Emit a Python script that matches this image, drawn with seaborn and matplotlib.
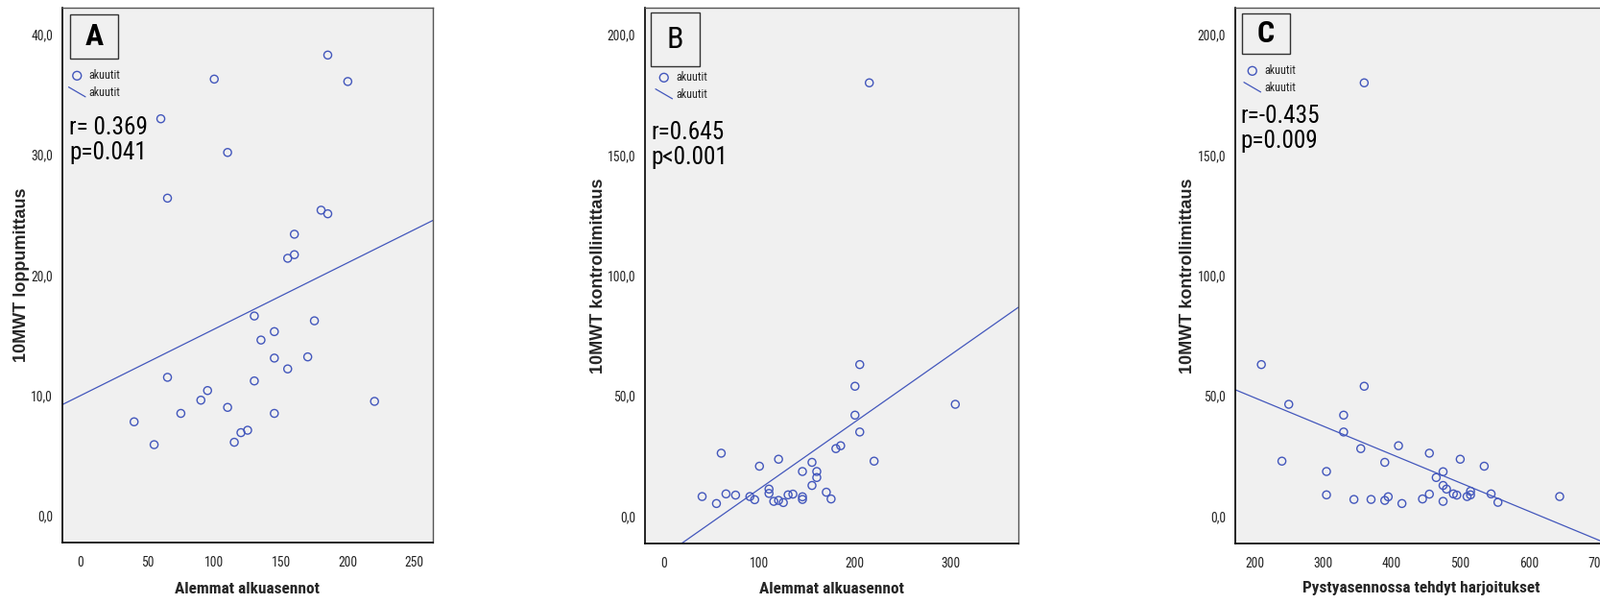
import seaborn as sns
import matplotlib.pyplot as plt
from matplotlib import font_manager
from matplotlib.lines import Line2D
from matplotlib.patches import Rectangle
from matplotlib.legend_handler import HandlerBase
from matplotlib.ticker import FuncFormatter

# ---- values ----
# A: Alemmat alkuasennot vs 10MWT loppumittaus
a_x = [185, 100, 200, 60, 110, 65, 180, 185, 160, 160, 155, 130, 175, 145, 135, 145,
       170, 155, 65, 130, 95, 90, 220, 110, 75, 145, 40, 125, 120, 115, 55]
a_y = [38.3, 36.3, 36.1, 33.0, 30.2, 26.4, 25.4, 25.1, 23.4, 21.7, 21.4, 16.6, 16.2, 15.3, 14.6, 13.1,
       13.2, 12.2, 11.5, 11.2, 10.4, 9.6, 9.5, 9.0, 8.5, 8.5, 7.8, 7.1, 6.9, 6.1, 5.9]

# B: Alemmat alkuasennot vs 10MWT kontrollimittaus
b_x = [215, 205, 200, 305, 200, 205, 185, 180, 60, 120, 220, 155, 100, 145, 160, 160, 155,
       110, 110, 170, 65, 75, 130, 135, 40, 90, 145, 145, 95, 175, 120, 115, 125, 55]
b_y = [180, 63, 54, 46.5, 42, 35, 29.3, 28.1, 26.2, 23.7, 22.9, 22.4, 20.8, 18.6, 18.6, 16.1, 12.8,
       11.3, 9.5, 10.0, 9.3, 8.8, 8.9, 9.2, 8.2, 8.2, 8.1, 7.0, 6.9, 7.2, 6.6, 6.2, 5.7, 5.3]

# C: Pystyasennossa tehdyt harjoitukset vs 10MWT kontrollimittaus
c_x = [360, 210, 360, 250, 330, 330, 410, 355, 455, 500, 240, 390, 535, 305, 475, 465, 475, 480,
       515, 515, 545, 305, 455, 490, 495, 510, 645, 395, 345, 370, 390, 445, 475, 555, 415]
c_y = [180, 63, 54, 46.5, 42, 35, 29.3, 28.1, 26.2, 23.7, 22.9, 22.4, 20.8, 18.6, 18.5, 16.1, 12.8, 11.3,
       10.4, 8.9, 9.3, 8.9, 9.2, 9.3, 8.8, 8.2, 8.2, 8.1, 7.0, 7.0, 6.6, 7.2, 6.2, 5.8, 5.3]

panel_letters = ["A", "B", "C"]
x_labels = ["Alemmat alkuasennot", "Alemmat alkuasennot", "Pystyasennossa tehdyt harjoitukset"]
y_labels = ["10MWT loppumittaus", "10MWT kontrollimittaus", "10MWT kontrollimittaus"]
stats_text = ["r= 0.369\np=0.041", "r=0.645\np<0.001", "r=-0.435\np=0.009"]
x_ticks = [[0, 50, 100, 150, 200, 250], [0, 100, 200, 300], [200, 300, 400, 500, 600, 700]]
y_ticks = [[0, 10, 20, 30, 40], [0, 50, 100, 150, 200], [0, 50, 100, 150, 200]]
x_lims = [(-13.7, 263.7), (-19.8, 371), (172, 715)]
y_lims = [(-2.24, 42.24), (-11.3, 211.2), (-11.3, 211.2)]
legend_label = "akuutit"

W, H = 1667, 629
BLUE = "#4357BC"
BG = "#F0F0F0"

sns.set_style("white")

# horizontal text in the reference is a squeezed Arial-like face: use the
# narrowest sans that is installed
fonts = font_manager.fontManager.ttflist
CONDENSED = ("condensed", "semi-condensed", "extra-condensed")
choice = None
for name in ["Liberation Sans Narrow", "Arial Narrow", "Roboto Condensed",
             "Noto Sans Condensed", "Open Sans Condensed"]:
    if any(f.name == name for f in fonts):
        choice = (name, "normal")
        break
if choice is None:
    for name in ["Roboto", "Noto Sans", "Open Sans", "DejaVu Sans"]:
        st = [f.stretch for f in fonts if f.name == name and f.stretch in CONDENSED]
        if st:
            choice = (name, st[0])
            break
if choice is None:
    choice = ("Liberation Sans", "normal")
NARROW = [choice[0], "DejaVu Sans"]
STRETCH = choice[1]
WIDE = ["Liberation Sans", "DejaVu Sans"]
plt.rcParams["font.family"] = NARROW
plt.rcParams["font.stretch"] = STRETCH

# panel boxes in pixels: left, right, top, bottom
boxes = [(65, 451, 8, 565), (672, 1061, 8, 566), (1287, 1675, 8, 566)]
letter_boxes = [(73, 123, 15, 61), (678, 729, 13, 69), (1294, 1344, 14, 56)]
letter_weight = ["bold", "normal", "bold"]
legend_anchor = [(71.5, 72), (683, 74), (1296, 67)]
stats_pos = [(72, 146), (678, 151), (1292, 134)]
ylabel_x = [22, 623, 1237]
xlabel_w = [143, 143, 250]
stats_w = [74, 73, 78]

fig = plt.figure(figsize=(W / 100, H / 100), dpi=100)
fig.patch.set_facecolor("white")
renderer = fig.canvas.get_renderer()


def fit_size(s, target_px, height_pt, **kw):
    # compromise between the width and the glyph height seen in the reference
    t = fig.text(0, 0, s, fontsize=10, **kw)
    w = t.get_window_extent(renderer).width
    t.remove()
    by_width = 10 * target_px / w
    return min(height_pt, (by_width * height_pt) ** 0.5)


tick_size = min(9.8, 1.1 * fit_size("200,0", 26, 9.8))
legend_size = fit_size(legend_label, 30, 9.5)
xlabel_size = min(fit_size(x_labels[0], xlabel_w[0], 13, fontweight="bold"),
                  fit_size(x_labels[2], xlabel_w[2], 13, fontweight="bold"))
stats_size = min(fit_size(stats_text[k], stats_w[k], 20) for k in range(3))


class DiagonalHandler(HandlerBase):
    def create_artists(self, legend, orig_handle, xdescent, ydescent,
                       width, height, fontsize, trans):
        line = Line2D([-xdescent, -xdescent + width],
                      [-ydescent + height * 1.1, -ydescent - height * 0.1])
        line.set_color(orig_handle.get_color())
        line.set_linewidth(orig_handle.get_linewidth())
        line.set_transform(trans)
        return [line]


data = [(a_x, a_y), (b_x, b_y), (c_x, c_y)]
comma = FuncFormatter(lambda v, p: f"{v:.1f}".replace(".", ","))

for i, (xs, ys) in enumerate(data):
    l, r, t, b = boxes[i]
    ax = fig.add_axes([l / W, 1 - b / H, (r - l) / W, (b - t) / H])
    ax.set_facecolor(BG)
    ax.set_xlim(*x_lims[i])
    ax.set_ylim(*y_lims[i])

    sns.regplot(x=xs, y=ys, ax=ax, ci=None, truncate=False, color=BLUE,
                scatter_kws=dict(s=34, facecolors="none", edgecolors=BLUE,
                                 linewidths=1.0, alpha=1),
                line_kws=dict(lw=0.9))
    ax.set_xlim(*x_lims[i])
    ax.set_ylim(*y_lims[i])

    ax.set_xticks(x_ticks[i])
    ax.set_yticks(y_ticks[i])
    ax.yaxis.set_major_formatter(comma)
    ax.tick_params(direction="out", length=6, width=1, color="black",
                   labelsize=tick_size, labelcolor="#222222")
    ax.tick_params(axis="y", pad=1)
    ax.tick_params(axis="x", pad=4)
    for s in ["left", "bottom"]:
        ax.spines[s].set_color("black")
        ax.spines[s].set_linewidth(1.2)
    for s in ["top", "right"]:
        ax.spines[s].set_color("#555555")
        ax.spines[s].set_linewidth(1.0)

    ax.set_xlabel(x_labels[i], fontsize=xlabel_size, fontweight="bold", va="center")
    ax.xaxis.set_label_coords(0.5, -(613 - b) / (b - t))
    ax.set_ylabel(y_labels[i], fontsize=13, fontweight="bold", family=WIDE,
                  stretch="normal", va="center")
    ax.yaxis.set_label_coords((ylabel_x[i] - l) / (r - l), 0.5)

    # panel letter box
    lx0, lx1, ly0, ly1 = letter_boxes[i]
    ax.add_patch(Rectangle(((lx0 - l) / (r - l), 1 - (ly1 - t) / (b - t)),
                           (lx1 - lx0) / (r - l), (ly1 - ly0) / (b - t),
                           transform=ax.transAxes, facecolor="none",
                           edgecolor="#333333", lw=1.0, zorder=5))
    ax.text(((lx0 + lx1) / 2 - l) / (r - l), 1 - ((ly0 + ly1) / 2 - t) / (b - t),
            panel_letters[i], transform=ax.transAxes, ha="center", va="center",
            fontsize=23, fontweight=letter_weight[i], color="black")

    # legend
    pts = ax.collections[0]
    ln = ax.lines[0]
    ax_, ay_ = legend_anchor[i]
    ax.legend([pts, ln], [legend_label, legend_label], loc="upper left",
              bbox_to_anchor=((ax_ - l) / (r - l), 1 - (ay_ - t) / (b - t)),
              frameon=False, fontsize=legend_size, borderpad=0, borderaxespad=0,
              handlelength=17.5 / (legend_size * 1.389),
              handletextpad=3.5 / (legend_size * 1.389),
              labelspacing=5 / (legend_size * 1.389),
              scatterpoints=1, markerscale=1.1,
              handler_map={Line2D: DiagonalHandler()})

    # r / p annotation
    sx, sy = stats_pos[i]
    ax.text((sx - l) / (r - l), 1 - (sy - t) / (b - t), stats_text[i],
            transform=ax.transAxes, ha="left", va="center", fontsize=stats_size,
            linespacing=1.1, color="black")

fig.savefig("out.png", dpi=100)
